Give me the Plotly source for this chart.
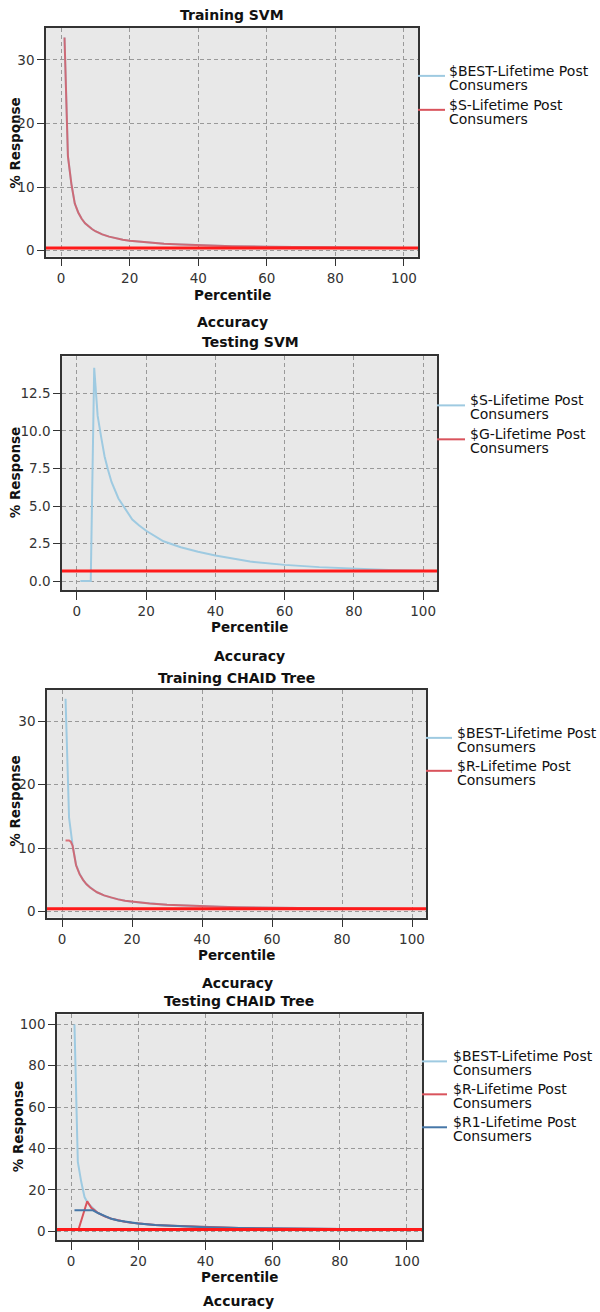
import plotly.graph_objects as go

W, H = 600, 1312

# ---------------- data ----------------
# Training SVM
train_svm_pct = [1, 2, 3, 4, 5, 6, 7, 8, 9, 10, 12, 14, 16, 18, 20, 25, 30, 35, 40, 45, 50, 60, 70, 80, 90, 100]
train_svm_best = [33.5, 14.8, 10.5, 7.4, 6.0, 5.0, 4.3, 3.8, 3.4, 3.05, 2.55, 2.2, 1.93, 1.72, 1.56, 1.27, 1.08, 0.95, 0.85, 0.77, 0.7, 0.6, 0.53, 0.48, 0.44, 0.4]
train_svm_s = [33.5, 14.8, 10.5, 7.4, 6.0, 5.0, 4.3, 3.8, 3.4, 3.05, 2.55, 2.2, 1.93, 1.72, 1.56, 1.27, 1.08, 0.95, 0.85, 0.77, 0.7, 0.6, 0.53, 0.48, 0.44, 0.4]
train_svm_base = 0.4

# Testing SVM
test_svm_pct = [1, 2, 3, 4, 5, 6, 7, 8, 9, 10, 12, 14, 16, 18, 20, 25, 30, 35, 40, 50, 60, 70, 80, 90, 100]
test_svm_s = [0, 0, 0, 0, 14.2, 11.0, 9.6, 8.3, 7.4, 6.6, 5.5, 4.8, 4.1, 3.7, 3.35, 2.65, 2.25, 1.95, 1.7, 1.3, 1.08, 0.93, 0.82, 0.74, 0.69]
test_svm_g_pct = [1, 25, 50, 75, 100]
test_svm_g = [0.67, 0.67, 0.67, 0.67, 0.67]
test_svm_base = 0.67

# Training CHAID Tree
train_chaid_best_pct = [1, 2, 3, 4, 5, 6, 7, 8, 9, 10, 12, 14, 16, 18, 20, 25, 30, 35, 40, 45, 50, 60, 70, 80, 90, 100]
train_chaid_best = [33.5, 14.8, 10.5, 7.4, 6.0, 5.0, 4.3, 3.8, 3.4, 3.05, 2.55, 2.2, 1.93, 1.72, 1.56, 1.27, 1.08, 0.95, 0.85, 0.77, 0.7, 0.6, 0.53, 0.48, 0.44, 0.4]
train_chaid_r_pct = [1, 2, 2.5, 3, 4, 5, 6, 7, 8, 9, 10, 12, 14, 16, 18, 20, 25, 30, 35, 40, 45, 50, 60, 70, 80, 90, 100]
train_chaid_r = [11.2, 11.2, 11.0, 10.4, 7.3, 5.9, 5.0, 4.3, 3.8, 3.4, 3.05, 2.55, 2.2, 1.93, 1.72, 1.56, 1.27, 1.08, 0.95, 0.85, 0.77, 0.7, 0.6, 0.53, 0.48, 0.44, 0.4]
train_chaid_base = 0.45

# Testing CHAID Tree
test_chaid_best_pct = [1, 2, 3, 4, 5, 6, 7, 8, 9, 10, 12, 14, 16, 18, 20, 25, 30, 35, 40, 50, 60, 70, 80, 90, 100]
test_chaid_best = [100, 33.5, 24, 16.5, 13.5, 11.8, 10.3, 8.8, 8.0, 7.2, 6.0, 5.2, 4.6, 4.1, 3.7, 3.0, 2.6, 2.25, 1.95, 1.55, 1.3, 1.12, 1.0, 0.9, 0.82]
test_chaid_r_pct = [1, 2.2, 4.8, 6, 7, 8, 9, 10, 12, 14, 16, 18, 20, 25, 30, 35, 40, 50, 60, 70, 80, 90, 100]
test_chaid_r = [0.8, 0.8, 14.5, 11.3, 10.1, 8.8, 8.0, 7.2, 6.0, 5.2, 4.6, 4.1, 3.7, 3.0, 2.6, 2.25, 1.95, 1.55, 1.3, 1.12, 1.0, 0.9, 0.82]
test_chaid_r1_pct = [1, 6.5, 8, 9, 10, 12, 14, 16, 18, 20, 25, 30, 35, 40, 50, 60, 70, 80, 90, 100]
test_chaid_r1 = [10.1, 10.1, 8.8, 8.0, 7.2, 6.0, 5.2, 4.6, 4.1, 3.7, 3.0, 2.6, 2.25, 1.95, 1.55, 1.3, 1.12, 1.0, 0.9, 0.82]
test_chaid_base = 0.8

# ---------------- style ----------------
LIGHT_BLUE = "#9ecae1"
RED = "#d9535c"
DARK_BLUE = "#4677a8"
BASE_RED = "#ff1a1a"
FONT = "DejaVu Sans"

panels = [
    dict(title="Training SVM", px=(46, 418), py=(28, 257), xr=[-4.4, 104.1], yr=[-0.94, 35.0],
         dtick=10, fmt="d", base=train_svm_base,
         series=[(train_svm_pct, train_svm_best, "$BEST-Lifetime Post Consumers", LIGHT_BLUE, 1.0),
                 (train_svm_pct, train_svm_s, "$S-Lifetime Post Consumers", RED, 0.8)],
         legend=[("$BEST-Lifetime Post", "Consumers", LIGHT_BLUE, 76), ("$S-Lifetime Post", "Consumers", RED, 110)],
         leg_x=(418, 445, 447), title_xy=(232, 15), xt=(232, 295), yt=(15, 143), foot=(233, 322)),
    dict(title="Testing SVM", px=(62, 437), py=(357, 591), xr=[-4.3, 104.0], yr=[-0.6, 14.96],
         dtick=2.5, fmt=".1f", base=test_svm_base,
         series=[(test_svm_pct, test_svm_s, "$S-Lifetime Post Consumers", LIGHT_BLUE, 1.0),
                 (test_svm_g_pct, test_svm_g, "$G-Lifetime Post Consumers", RED, 1.0)],
         legend=[("$S-Lifetime Post", "Consumers", LIGHT_BLUE, 406), ("$G-Lifetime Post", "Consumers", RED, 440)],
         leg_x=(437, 465, 468), title_xy=(250, 343), xt=(249, 628), yt=(15, 473), foot=(249, 657)),
    dict(title="Training CHAID Tree", px=(47, 426), py=(691, 919), xr=[-4.3, 104.0], yr=[-0.94, 34.9],
         dtick=10, fmt="d", base=train_chaid_base,
         series=[(train_chaid_best_pct, train_chaid_best, "$BEST-Lifetime Post Consumers", LIGHT_BLUE, 1.0),
                 (train_chaid_r_pct, train_chaid_r, "$R-Lifetime Post Consumers", RED, 0.8)],
         legend=[("$BEST-Lifetime Post", "Consumers", LIGHT_BLUE, 739), ("$R-Lifetime Post", "Consumers", RED, 772)],
         leg_x=(426, 452, 455), title_xy=(236, 679), xt=(236, 956), yt=(15, 802), foot=(237, 984)),
    dict(title="Testing CHAID Tree", px=(57, 422), py=(1016, 1242), xr=[-4.2, 104.5], yr=[-4.3, 104.8],
         dtick=20, fmt="d", base=test_chaid_base,
         series=[(test_chaid_best_pct, test_chaid_best, "$BEST-Lifetime Post Consumers", LIGHT_BLUE, 1.0),
                 (test_chaid_r_pct, test_chaid_r, "$R-Lifetime Post Consumers", RED, 1.0),
                 (test_chaid_r1_pct, test_chaid_r1, "$R1-Lifetime Post Consumers", DARK_BLUE, 1.0)],
         legend=[("$BEST-Lifetime Post", "Consumers", LIGHT_BLUE, 1063), ("$R-Lifetime Post", "Consumers", RED, 1096),
                 ("$R1-Lifetime Post", "Consumers", DARK_BLUE, 1129)],
         leg_x=(422, 447, 451), title_xy=(239, 1003), xt=(239, 1279), yt=(18, 1128), foot=(238, 1303)),
]


def px2x(p):
    return p / W


def py2y(p):
    return 1 - p / H


fig = go.Figure()
shapes = []
annotations = []
layout = {}

for i, pnl in enumerate(panels, start=1):
    sx = "" if i == 1 else str(i)
    xname, yname = "x" + sx, "y" + sx
    for xs, ys, name, color, op in pnl["series"]:
        fig.add_trace(go.Scatter(x=xs, y=ys, name=name, mode="lines", xaxis=xname, yaxis=yname,
                                 line=dict(color=color, width=2), opacity=op, showlegend=False))
    axis_common = dict(showgrid=True, gridcolor="#999999", griddash="4px,3px", gridwidth=1,
                       zeroline=False, showline=True, linecolor="#333333", linewidth=1.5, mirror=True,
                       ticks="outside", tickcolor="#333333", tickwidth=1.2,
                       tickfont=dict(family=FONT, size=13.5, color="#333333"), fixedrange=True)
    layout["xaxis" + sx] = dict(axis_common, domain=[px2x(pnl["px"][0]), px2x(pnl["px"][1])],
                                range=pnl["xr"], anchor=yname, tick0=0, dtick=20, ticklen=8)
    layout["yaxis" + sx] = dict(axis_common, domain=[py2y(pnl["py"][1]), py2y(pnl["py"][0])],
                                range=pnl["yr"], anchor=xname, tick0=0, dtick=pnl["dtick"],
                                tickformat=pnl["fmt"], ticklen=7)
    # baseline
    shapes.append(dict(type="line", xref=xname + " domain", x0=0, x1=1, yref=yname,
                       y0=pnl["base"], y1=pnl["base"], line=dict(color=BASE_RED, width=3), layer="above"))
    # titles
    tx, ty = pnl["title_xy"]
    annotations.append(dict(text="<b>%s</b>" % pnl["title"], x=px2x(tx), y=py2y(ty), xref="paper", yref="paper",
                            xanchor="center", yanchor="middle", showarrow=False,
                            font=dict(family=FONT, size=14, color="#111111")))
    annotations.append(dict(text="<b>Percentile</b>", x=px2x(pnl["xt"][0]), y=py2y(pnl["xt"][1]), xref="paper",
                            yref="paper", xanchor="center", yanchor="middle", showarrow=False,
                            font=dict(family=FONT, size=13.5, color="#111111")))
    annotations.append(dict(text="<b>% Response</b>", x=px2x(pnl["yt"][0]), y=py2y(pnl["yt"][1]), xref="paper",
                            yref="paper", xanchor="center", yanchor="middle", showarrow=False, textangle=-90,
                            font=dict(family=FONT, size=13.5, color="#111111")))
    annotations.append(dict(text="<b>Accuracy</b>", x=px2x(pnl["foot"][0]), y=py2y(pnl["foot"][1]), xref="paper",
                            yref="paper", xanchor="center", yanchor="middle", showarrow=False,
                            font=dict(family=FONT, size=14, color="#111111")))
    # legend
    lx0, lx1, ltx = pnl["leg_x"]
    for l1, l2, color, ly in pnl["legend"]:
        shapes.append(dict(type="line", xref="paper", yref="paper", x0=px2x(lx0), x1=px2x(lx1),
                           y0=py2y(ly), y1=py2y(ly), line=dict(color=color, width=2)))
        annotations.append(dict(text=l1, x=px2x(ltx), y=py2y(ly - 5), xref="paper", yref="paper",
                                xanchor="left", yanchor="middle", showarrow=False,
                                font=dict(family=FONT, size=14, color="#111111")))
        annotations.append(dict(text=l2, x=px2x(ltx), y=py2y(ly + 9), xref="paper", yref="paper",
                                xanchor="left", yanchor="middle", showarrow=False,
                                font=dict(family=FONT, size=14, color="#111111")))

fig.update_layout(width=W, height=H, margin=dict(l=0, r=0, t=0, b=0), paper_bgcolor="white",
                  plot_bgcolor="#e8e8e8", showlegend=False, shapes=shapes, annotations=annotations,
                  font=dict(family=FONT), **layout)

fig.write_html("out.html", config=dict(displayModeBar=False),
               post_script="document.body.style.margin='0';document.body.style.overflow='hidden';")
